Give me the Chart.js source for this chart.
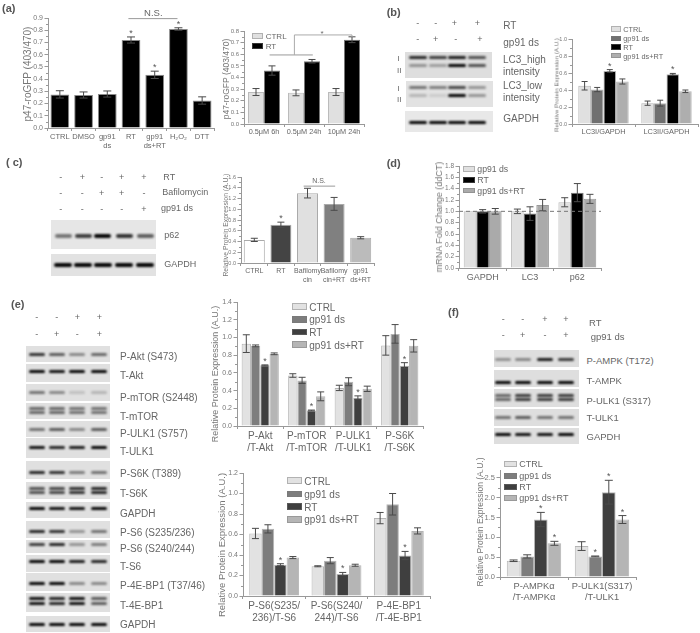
<!DOCTYPE html>
<html>
<head>
<meta charset="utf-8">
<title>Figure panels a-f</title>
<script src="https://cdn.jsdelivr.net/npm/chart.js@4/dist/chart.umd.min.js"></script>
<style>
  html, body { margin: 0; padding: 0; background: #fff; }
  #stage { position: relative; width: 700px; height: 633px; overflow: hidden; background: #fff; filter: blur(0.5px);
           font-family: "Liberation Sans", Arial, sans-serif; color: #666; }
  #stage canvas { position: absolute; }
  .txt { position: absolute; white-space: nowrap; transform: translateY(-50%); }
  .ytitle { position: absolute; white-space: nowrap; color: #777; transform: translate(-50%, -50%) rotate(-90deg); }
  .sign { position: absolute; transform: translate(-50%, -50%); font-size: 9px; }
  .swatch { position: absolute; box-sizing: border-box; border: 1px solid rgba(120,120,120,0.45); }
  .blot { position: absolute; overflow: hidden; }
  .band { position: absolute; border-radius: 2px; filter: blur(0.8px); }
</style>
</head>
<body>
<div id="stage"></div>
<script>
// panel a, left
const a1Labels = ['CTRL', 'DMSO', ['gp91', 'ds'], 'RT', ['gp91', 'ds+RT'], 'H₂O₂', 'DTT'];
const a1Values = [0.275, 0.27, 0.278, 0.72, 0.435, 0.81, 0.225];
const a1Errors = [0.03, 0.025, 0.025, 0.025, 0.03, 0.01, 0.03];
const a1Stars = [0, 0, 0, 1, 1, 1, 0];
// panel a, right
const a2Labels = ['0.5μM 6h', '0.5μM 24h', '10μM 24h'];
const a2Ctrl = [0.275, 0.268, 0.275];
const a2CtrlErr = [0.03, 0.025, 0.03];
const a2Rt = [0.46, 0.54, 0.725];
const a2RtErr = [0.04, 0.015, 0.025];
// panel b
const bLabels = ['LC3I/GAPDH', 'LC3II/GAPDH'];
const bCtrl = [0.45, 0.245];
const bCtrlErr = [0.05, 0.025];
const bDs = [0.405, 0.245];
const bDsErr = [0.025, 0.035];
const bRt = [0.625, 0.585];
const bRtErr = [0.015, 0.01];
const bDsRt = [0.5, 0.385];
const bDsRtErr = [0.03, 0.015];
// panel c
const cLabels = ['CTRL', 'RT', ['Bafilomy', 'cin'], ['Bafilomy', 'cin+RT'], ['gp91', 'ds+RT']];
const cValues = [0.43, 0.71, 1.3, 1.1, 0.47];
const cErrors = [0.03, 0.05, 0.09, 0.12, 0.02];
const cStars = [0, 1, 0, 0, 0];
// panel d
const dLabels = ['GAPDH', 'LC3', 'p62'];
const dDs = [1.0, 1.0, 1.16];
const dDsErr = [0, 0.04, 0.08];
const dRt = [1.0, 0.96, 1.33];
const dRtErr = [0.03, 0.12, 0.16];
const dDsRt = [1.0, 1.11, 1.22];
const dDsRtErr = [0.05, 0.1, 0.08];
// panel e, top
const e1Labels = [['P-Akt', '/T-Akt'], ['P-mTOR', '/T-mTOR'], ['P-ULK1', '/T-ULK1'], ['P-S6K', '/T-S6K']];
const e1Ctrl = [0.93, 0.57, 0.43, 0.91];
const e1CtrlErr = [0.1, 0.02, 0.03, 0.11];
const e1Ds = [0.905, 0.515, 0.5, 1.04];
const e1DsErr = [0.01, 0.035, 0.045, 0.105];
const e1Rt = [0.685, 0.175, 0.32, 0.68];
const e1RtErr = [0.005, 0.005, 0.02, 0.035];
const e1DsRt = [0.815, 0.335, 0.42, 0.905];
const e1DsRtErr = [0.01, 0.05, 0.03, 0.07];
// panel e, bottom
const e2Labels = [['P-S6(S235/', '236)/T-S6'], ['P-S6(S240/', '244)/T-S6'], ['P-4E-BP1', '/T-4E-BP1']];
const e2Ctrl = [0.61, 0.29, 0.76];
const e2CtrlErr = [0.05, 0.005, 0.055];
const e2Ds = [0.655, 0.345, 0.895];
const e2DsErr = [0.04, 0.03, 0.105];
const e2Rt = [0.305, 0.215, 0.395];
const e2RtErr = [0.01, 0.015, 0.04];
const e2DsRt = [0.375, 0.3, 0.635];
const e2DsRtErr = [0.01, 0.01, 0.03];
// panel f
const fLabels = [['P-AMPKα', '/T-AMPKα'], ['P-ULK1(S317)', '/T-ULK1']];
const fCtrl = [0.41, 0.78];
const fCtrlErr = [0.02, 0.11];
const fDs = [0.52, 0.52];
const fDsErr = [0.04, 0.01];
const fRt = [1.45, 2.14];
const fRtErr = [0.18, 0.3];
const fDsRt = [0.85, 1.45];
const fDsRtErr = [0.05, 0.1];

const SERIES_4 = ['CTRL', 'gp91 ds', 'RT', 'gp91 ds+RT'];
const SERIES_3 = ['gp91 ds', 'RT', 'gp91 ds+RT'];
const GRAY_B = ['#e0e0e0', '#707070', '#000000', '#aeaeae'];
const GRAY_E = ['#e2e2e2', '#7d7d7d', '#3f3f3f', '#b5b5b5'];
const FONT = '"Liberation Sans", Arial, sans-serif';
const stage = document.getElementById('stage');

function addText(text, x, y, size, extra = {}) {
  const el = document.createElement('div');
  el.className = 'txt';
  el.textContent = text;
  el.style.left = x + 'px';
  el.style.top = y + 'px';
  el.style.fontSize = size + 'px';
  Object.assign(el.style, extra);
  stage.appendChild(el);
}

function addYTitle(text, x, y, size) {
  const el = document.createElement('div');
  el.className = 'ytitle';
  el.textContent = text;
  el.style.left = x + 'px';
  el.style.top = y + 'px';
  el.style.fontSize = size + 'px';
  stage.appendChild(el);
}

function addSigns(row, xs, y) {
  row.forEach((s, i) => {
    const el = document.createElement('div');
    el.className = 'sign';
    el.textContent = s;
    el.style.left = xs[i] + 'px';
    el.style.top = y + 'px';
    stage.appendChild(el);
  });
}

function addLegend(names, colors, x, ys, w, h, textX, size) {
  names.forEach((name, i) => {
    const sw = document.createElement('div');
    sw.className = 'swatch';
    sw.style.cssText = `left:${x}px;top:${ys[i] - h / 2}px;width:${w}px;height:${h}px;background:${colors[i]}`;
    stage.appendChild(sw);
    addText(name, textX, ys[i], size);
  });
}

// western blot strip: one or more band rows across the lanes
function addBlot(x, y, w, h, bg, laneXs, bandYs, strengths, bandW = 18, bandH = 3.2) {
  const el = document.createElement('div');
  el.className = 'blot';
  el.style.cssText = `left:${x}px;top:${y}px;width:${w}px;height:${h}px;background:${bg}`;
  bandYs.forEach((by, r) => {
    const row = Array.isArray(strengths[0]) ? strengths[r] : strengths;
    laneXs.forEach((lx, i) => {
      const b = document.createElement('div');
      b.className = 'band';
      b.style.cssText = `left:${lx - x - bandW / 2}px;top:${by - y - bandH / 2}px;width:${bandW}px;height:${bandH}px;background:rgba(5,5,5,${row[i]})`;
      el.appendChild(b);
    });
  });
  stage.appendChild(el);
}

function marksPlugin(cfg) {
  return {
    id: 'panelMarks',
    afterDatasetsDraw(chart) {
      const { ctx, scales: { x, y } } = chart;
      ctx.save();
      // minor ticks between the major ones
      ctx.strokeStyle = '#999';
      ctx.lineWidth = 1;
      const ticks = y.ticks.map((t) => t.value);
      for (let i = 0; i < ticks.length - 1; i++) {
        const py = Math.round(y.getPixelForValue((ticks[i] + ticks[i + 1]) / 2)) + 0.5;
        ctx.beginPath();
        ctx.moveTo(x.left - 2, py);
        ctx.lineTo(x.left, py);
        ctx.stroke();
      }
      // error bars and stars
      chart.data.datasets.forEach((ds, di) => {
        const bars = chart.getDatasetMeta(di).data;
        ds.data.forEach((v, i) => {
          const px = bars[i].x;
          const err = ds.errs ? ds.errs[i] : 0;
          const top = y.getPixelForValue(v + err);
          const low = y.getPixelForValue(v - err);
          if (err > 0) {
            const cap = cfg.cap || 3.5;
            ctx.strokeStyle = '#4a4a4a';
            ctx.beginPath();
            ctx.moveTo(px, top);
            ctx.lineTo(px, low);
            ctx.moveTo(px - cap, top);
            ctx.lineTo(px + cap, top);
            ctx.moveTo(px - cap, low);
            ctx.lineTo(px + cap, low);
            ctx.stroke();
          }
          if (ds.stars && ds.stars[i]) {
            ctx.fillStyle = '#555';
            ctx.font = `9px ${FONT}`;
            ctx.textAlign = 'center';
            ctx.textBaseline = 'alphabetic';
            ctx.fillText('*', px, top - 1);
          }
        });
      });
      // comparison brackets and reference lines, in scale units
      (cfg.lines || []).forEach((ln) => {
        ctx.strokeStyle = ln.color || '#999';
        ctx.setLineDash(ln.dash || []);
        ctx.beginPath();
        ln.points.forEach(([cx, v], i) => {
          const px = x.getPixelForValue(cx);
          const py = y.getPixelForValue(v);
          if (i === 0) ctx.moveTo(px, py);
          else ctx.lineTo(px, py);
        });
        ctx.stroke();
        ctx.setLineDash([]);
      });
      (cfg.notes || []).forEach((n) => {
        ctx.fillStyle = '#666';
        ctx.font = `${n.size}px ${FONT}`;
        ctx.textAlign = 'center';
        ctx.textBaseline = 'middle';
        ctx.fillText(n.text, x.getPixelForValue(n.x), y.getPixelForValue(n.y));
      });
      ctx.restore();
    },
  };
}

function barPanel(cfg) {
  const AXIS_W = 24;
  const AXIS_H = 36;
  const PAD_TOP = 24;
  const PAD_RIGHT = 14;
  const canvas = document.createElement('canvas');
  canvas.width = Math.round(cfg.r - cfg.l) + AXIS_W + PAD_RIGHT;
  canvas.height = Math.round(cfg.b - cfg.t) + AXIS_H + PAD_TOP;
  canvas.style.left = cfg.l - AXIS_W + 'px';
  canvas.style.top = cfg.t - PAD_TOP + 'px';
  stage.appendChild(canvas);

  const grouped = cfg.datasets.length > 1;
  const datasets = cfg.datasets.map((d) => ({
    label: d.label,
    data: d.data,
    errs: d.errs,
    stars: d.stars,
    backgroundColor: d.color,
    borderColor: d.border || 'rgba(130,130,130,0.6)',
    borderWidth: 1,
    barPercentage: grouped ? 1 : 0.79,
    categoryPercentage: grouped ? 0.8 : 1,
  }));

  new Chart(canvas, {
    type: 'bar',
    data: { labels: cfg.labels, datasets },
    options: {
      responsive: false,
      animation: false,
      layout: { autoPadding: false, padding: { top: PAD_TOP, right: PAD_RIGHT, left: 0, bottom: 0 } },
      plugins: { legend: { display: false }, tooltip: { enabled: false } },
      scales: {
        x: {
          afterFit: (s) => { s.height = AXIS_H; },
          border: { color: '#999' },
          grid: { drawOnChartArea: false, offset: true, tickLength: 3, color: '#999' },
          ticks: {
            maxRotation: 0, minRotation: 0, autoSkip: false, padding: 1,
            color: '#666', font: { family: FONT, size: cfg.xSize },
          },
        },
        y: {
          min: 0,
          max: cfg.max,
          afterFit: (s) => { s.width = AXIS_W; },
          border: { color: '#999' },
          grid: { drawOnChartArea: false, tickLength: 3.5, color: '#999' },
          ticks: {
            stepSize: cfg.step, includeBounds: false, padding: 1.5,
            color: '#777', font: { family: FONT, size: cfg.ySize },
            callback: (v) => v.toFixed(1),
          },
        },
      },
    },
    plugins: [marksPlugin(cfg)],
  });
}

function fourSeries(colors, vals, errs, rtStars, extraStars = {}) {
  return SERIES_4.map((name, i) => ({
    label: name,
    data: vals[i],
    errs: errs[i],
    color: colors[i],
    stars: name === 'RT' ? rtStars : extraStars[name],
  }));
}

/* ---------- charts ---------- */

barPanel({
  l: 47.7, r: 213.3, t: 18.3, b: 128, max: 0.9, step: 0.1, xSize: 7.5, ySize: 7, cap: 4,
  labels: a1Labels,
  datasets: [{ label: 'p47', data: a1Values, errs: a1Errors, stars: a1Stars, color: '#000', border: '#8a8a8a' }],
  lines: [{ points: [[2.89, 0.895], [4.96, 0.895]] }],
  notes: [{ text: 'N.S.', x: 3.94, y: 0.94, size: 9.5 }],
});
barPanel({
  l: 244.4, r: 364.8, t: 31, b: 124, max: 0.8, step: 0.1, xSize: 7.3, ySize: 6,
  labels: a2Labels,
  datasets: [
    { label: 'CTRL', data: a2Ctrl, errs: a2CtrlErr, color: '#e0e0e0', border: '#bbb' },
    { label: 'RT', data: a2Rt, errs: a2RtErr, color: '#000', border: '#777' },
  ],
  lines: [
    { points: [[0.14, 0.594], [1.22, 0.594]] },
    { points: [[0.76, 0.594], [0.76, 0.766], [2.2, 0.766], [2.2, 0.745]], color: '#aaa' },
  ],
  notes: [{ text: '*', x: 1.45, y: 0.78, size: 8 }],
});
barPanel({
  l: 571.8, r: 697.8, t: 38.7, b: 124, max: 1.0, step: 0.2, xSize: 7.4, ySize: 5.5, cap: 3,
  labels: bLabels,
  datasets: fourSeries(GRAY_B, [bCtrl, bDs, bRt, bDsRt], [bCtrlErr, bDsErr, bRtErr, bDsRtErr], [1, 1]),
});
barPanel({
  l: 241, r: 374, t: 177.3, b: 263.3, max: 1.6, step: 0.2, xSize: 7, ySize: 5.5, cap: 3.5,
  labels: cLabels,
  datasets: [{
    label: 'p62', data: cValues, errs: cErrors, stars: cStars,
    color: ['#ffffff', '#444444', '#e0e0e0', '#808080', '#bbbbbb'], border: '#aaa',
  }],
  lines: [{ points: [[1.855, 1.43], [3.04, 1.43]] }],
  notes: [{ text: 'N.S.', x: 2.43, y: 1.53, size: 7 }],
});
barPanel({
  l: 458.7, r: 601, t: 165.7, b: 267.7, max: 1.8, step: 0.2, xSize: 9, ySize: 6.5,
  labels: dLabels,
  datasets: [
    { label: SERIES_3[0], data: dDs, errs: dDsErr, color: '#e0e0e0', border: '#bbb' },
    { label: SERIES_3[1], data: dRt, errs: dRtErr, color: '#000', border: '#777' },
    { label: SERIES_3[2], data: dDsRt, errs: dDsRtErr, color: '#aaaaaa', border: '#999' },
  ],
  lines: [{ points: [[-0.5, 1], [2.5, 1]], dash: [4, 3], color: '#777' }],
});
barPanel({
  l: 237, r: 423, t: 302.3, b: 426, max: 1.4, step: 0.2, xSize: 10, ySize: 7,
  labels: e1Labels,
  datasets: fourSeries(GRAY_E, [e1Ctrl, e1Ds, e1Rt, e1DsRt], [e1CtrlErr, e1DsErr, e1RtErr, e1DsRtErr], [1, 1, 1, 1]),
});
barPanel({
  l: 243.2, r: 430, t: 473.3, b: 596.7, max: 1.2, step: 0.2, xSize: 10, ySize: 7,
  labels: e2Labels,
  datasets: fourSeries(GRAY_E, [e2Ctrl, e2Ds, e2Rt, e2DsRt], [e2CtrlErr, e2DsErr, e2RtErr, e2DsRtErr], [1, 1, 1]),
});
barPanel({
  l: 500.3, r: 636.3, t: 470.4, b: 577.3, max: 2.7, step: 0.5, xSize: 9.3, ySize: 7.5, cap: 4,
  labels: fLabels,
  datasets: fourSeries(GRAY_E, [fCtrl, fDs, fRt, fDsRt], [fCtrlErr, fDsErr, fRtErr, fDsRtErr], [1, 1],
    { 'gp91 ds': [0, 1], 'gp91 ds+RT': [1, 1] }),
});

/* ---------- axis titles and legends ---------- */

addYTitle('p47-roGFP (403/470)', 27, 73.7, 10);
addYTitle('p47-roGFP (403/470)', 226, 79.3, 8.5);
addYTitle('Relative Protein Expression (A.U.)', 556, 85, 6.2);
addYTitle('Relative Protein Expression (A.U.)', 224.5, 225, 6.8);
addYTitle('mRNA Fold Change (ddCT)', 439.3, 216.7, 9);
addYTitle('Relative Protein Expression (A.U.)', 215, 373.7, 9);
addYTitle('Relative Protein Expression (A.U.)', 221, 545, 9.5);
addYTitle('Relative Protein Expression (A.U.)', 480, 521.7, 8.5);

addLegend(['CTRL', 'RT'], ['#e0e0e0', '#000'], 252.3, [36, 46], 11, 6, 265.7, 8);
addLegend(SERIES_4, GRAY_B, 610.7, [29, 38.3, 47, 55.7], 10, 5.6, 623.3, 7.3);
addLegend(SERIES_3, ['#e0e0e0', '#000', '#aaaaaa'], 463.3, [169, 180, 190.7], 11.7, 5.6, 477.3, 8.7);
addLegend(SERIES_4, GRAY_E, 291.7, [306.7, 319.3, 332, 344.7], 15, 6.5, 309.3, 10);
addLegend(SERIES_4, GRAY_E, 287.3, [480.7, 494, 506.7, 519.3], 14.3, 6.5, 304.3, 10);
addLegend(SERIES_4, GRAY_E, 504, [464, 476, 487, 498.3], 13.3, 6, 519.3, 9);

/* ---------- panel letters ---------- */

const LETTER = { fontWeight: 'bold', color: '#555' };
addText('(a)', 2, 8, 11, LETTER);
addText('(b)', 386.7, 12, 11, LETTER);
addText('( c)', 6, 162, 11, LETTER);
addText('(d)', 386.7, 163, 11, LETTER);
addText('(e)', 11, 304, 11, LETTER);
addText('(f)', 448, 312, 11, LETTER);

/* ---------- blots, panel b ---------- */

const bLanes = [418.3, 438.3, 457.3, 477.3];
addSigns(['-', '-', '+', '+'], [417.7, 435.7, 454.3, 477.3], 22.7);
addSigns(['-', '+', '-', '+'], [417.7, 435.7, 455.7, 480], 39.3);
addBlot(405, 51.7, 86.7, 26.6, '#dedede', bLanes, [57.7, 65.3], [[0.85, 0.75, 0.9, 0.65], [0.35, 0.3, 1, 0.65]]);
addBlot(406, 81, 86.7, 25.7, '#e2e2e2', bLanes, [87.7, 95.7], [[0.5, 0.45, 0.7, 0.35], [0.2, 0.1, 1, 0.35]]);
addBlot(405, 111, 87.7, 20.7, '#e8e8e8', bLanes, [122.3], [1, 1, 1, 1]);
addText('RT', 503.3, 25, 10);
addText('gp91 ds', 503.3, 41.7, 10);
addText('LC3_high', 503, 59.3, 10);
addText('intensity', 503, 71, 10);
addText('LC3_low', 503, 85, 10);
addText('intensity', 503, 96.7, 10);
addText('GAPDH', 503.3, 118.3, 10);
addText('I', 397.5, 57.5, 8);
addText('II', 397, 69.5, 8);
addText('I', 397.5, 87.5, 8);
addText('II', 397, 99, 8);

/* ---------- blots, panel c ---------- */

const cLanes = [63.3, 83.3, 102.7, 124, 145];
addSigns(['-', '+', '-', '+', '+'], [60.7, 82.3, 101.7, 121.7, 144], 176.7);
addSigns(['-', '-', '+', '+', '-'], [60.7, 82.3, 101.7, 121.7, 144], 192.7);
addSigns(['-', '-', '-', '-', '+'], [60.7, 82.3, 101.7, 121.7, 144], 209);
addBlot(51, 220, 105, 29, '#e6e6e6', cLanes, [236], [0.5, 0.75, 1, 0.8, 0.6], 17, 3.8);
addBlot(51, 254, 105, 21.7, '#e2e2e2', cLanes, [264.7], [1, 1, 1, 1, 1], 18, 4);
addText('RT', 163.3, 176.7, 9);
addText('Bafilomycin', 162.3, 192.3, 9);
addText('gp91 ds', 161, 208.3, 9);
addText('p62', 164.3, 235, 9);
addText('GAPDH', 164.3, 264, 9);

/* ---------- blots, panel e ---------- */

const eLanes = [36.7, 56.7, 77.3, 99.3];
addSigns(['-', '-', '+', '+'], eLanes, 317);
addSigns(['-', '+', '-', '+'], eLanes, 334);
const eRows = [
  [346, 15.7, [354.3], [0.8, 0.6, 0.4, 0.55], 'P-Akt (S473)', 356],
  [364.3, 17.3, [371.7], [1, 0.95, 1, 1], 'T-Akt', 375],
  [384, 17, [392.7], [0.5, 0.4, 0.15, 0.2], 'P-mTOR (S2448)', 396.7],
  [403.3, 15.7, [409, 412.8], [0.55, 0.55, 0.5, 0.5], 'T-mTOR', 415.7],
  [421, 15.7, [429.3], [0.5, 0.6, 0.4, 0.6], 'P-ULK1 (S757)', 432.7],
  [438.3, 19.3, [447.7], [0.95, 0.85, 0.9, 1], 'T-ULK1', 451],
  [461, 18.3, [472.7], [0.85, 0.8, 0.45, 0.5], 'P-S6K (T389)', 472.7],
  [481.7, 17.3, [489, 492.8], [0.65, 0.7, 0.8, 0.85], 'T-S6K', 492.7],
  [501.7, 16, [508.3], [1, 0.95, 0.95, 1], 'GAPDH', 513.3],
  [521, 16.7, [531], [0.85, 0.8, 0.35, 0.5], 'P-S6 (S235/236)', 531.7],
  [540, 13.3, [544.3], [0.75, 0.85, 0.35, 0.45], 'P-S6 (S240/244)', 548.3],
  [555, 16.7, [561.7], [1, 1, 0.9, 0.85], 'T-S6', 565.7],
  [573.3, 17.7, [583.3], [1, 1, 0.4, 0.4], 'P-4E-BP1 (T37/46)', 585],
  [593.3, 18.3, [599, 604], [0.95, 0.85, 0.95, 0.6], 'T-4E-BP1', 605],
  [616, 15.7, [624.3], [1, 1, 1, 1], 'GAPDH', 624.3],
];
eRows.forEach(([top, h, ys, strengths, name, labelY]) => {
  addBlot(26, top, 84, h, '#e0e0e0', eLanes, ys, strengths, 16, 3);
  addText(name, 120, labelY, 10);
});

/* ---------- blots, panel f ---------- */

const fLanes = [503.3, 522.7, 545, 566];
addSigns(['-', '-', '+', '+'], fLanes, 319);
addSigns(['-', '+', '-', '+'], fLanes, 335);
const fRows = [
  [350, 17.3, [359.3], [0.35, 0.4, 0.9, 0.75], 'P-AMPK (T172)', 360],
  [370, 17.3, [382.3], [1, 1, 1, 1], 'T-AMPK', 380],
  [389, 18.3, [395, 399.3], [0.55, 0.75, 0.75, 0.75], 'P-ULK1 (S317)', 400],
  [409, 17, [417.3], [0.5, 0.6, 0.5, 0.5], 'T-ULK1', 417.3],
  [428.3, 15.7, [434.3], [1, 0.95, 0.95, 1], 'GAPDH', 435.7],
];
fRows.forEach(([top, h, ys, strengths, name, labelY]) => {
  addBlot(494, top, 84.7, h, '#dedede', fLanes, ys, strengths, 16, 3);
  addText(name, 586.5, labelY, 9.5);
});
addText('RT', 589, 321.7, 9.5);
addText('gp91 ds', 590.7, 336, 9.5);
</script>
</body>
</html>
